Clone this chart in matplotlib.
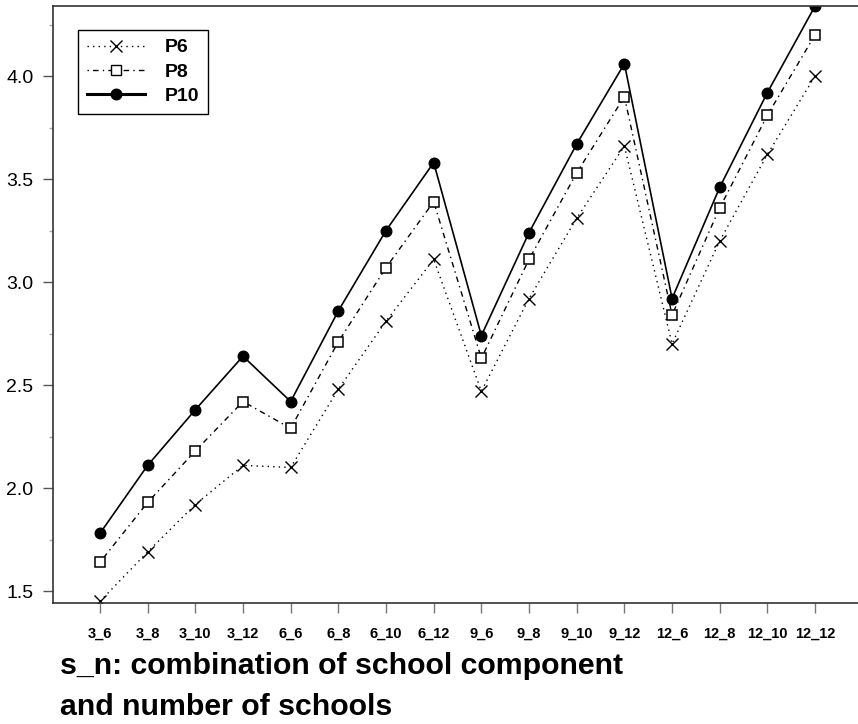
import matplotlib
matplotlib.use('Agg')
import matplotlib.pyplot as plt
from matplotlib.lines import Line2D
import numpy as np

# s_n combinations on the x axis
combos = ['3_6', '3_8', '3_10', '3_12', '6_6', '6_8', '6_10', '6_12',
          '9_6', '9_8', '9_10', '9_12', '12_6', '12_8', '12_10', '12_12']

# values
p6 = [1.45, 1.69, 1.92, 2.11, 2.10, 2.48, 2.81, 3.11,
      2.47, 2.92, 3.31, 3.66, 2.70, 3.20, 3.62, 4.00]
p8 = [1.64, 1.93, 2.18, 2.42, 2.29, 2.71, 3.07, 3.39,
      2.63, 3.11, 3.53, 3.90, 2.84, 3.36, 3.81, 4.20]
p10 = [1.78, 2.11, 2.38, 2.64, 2.42, 2.86, 3.25, 3.58,
       2.74, 3.24, 3.67, 4.06, 2.92, 3.46, 3.92, 4.34]

ytick_vals = [1.5, 2.0, 2.5, 3.0, 3.5, 4.0]
ytick_minor = [1.75, 2.25, 2.75, 3.25, 3.75, 4.25]

plt.rcParams['font.family'] = ['Liberation Sans', 'DejaVu Sans']

W, H = 858, 724
fig = plt.figure(figsize=(W / 100, H / 100), dpi=100)
ax = fig.add_axes([53 / W, (H - 603) / H, (W - 53) / W, (603 - 6) / H])

x = np.arange(1, len(combos) + 1)

ax.plot(x, p6, color='black', lw=1.0, dashes=(1, 3), marker='x',
        markersize=8.5, markeredgewidth=1.0)
ax.plot(x, p8, color='black', lw=1.0, dashes=(1, 3, 4, 3), marker='s',
        markersize=7.2, markerfacecolor='white', markeredgecolor='black',
        markeredgewidth=1.1)
ax.plot(x, p10, color='black', lw=1.2, ls='-', marker='o',
        markersize=7.6, markerfacecolor='black', markeredgecolor='black')

ax.set_xlim(0.015, 16.9)
ax.set_ylim(1.442, 4.34)

ax.set_xticks(x)
ax.set_xticklabels(combos, fontsize=10.5, fontweight='bold')
ax.tick_params(axis='x', length=7.2, width=1.0, color='#777777', pad=10)

ax.set_yticks(ytick_vals)
ax.set_yticklabels(['%.1f' % v for v in ytick_vals], fontsize=14)
ax.set_yticks(ytick_minor, minor=True)
ax.tick_params(axis='y', which='major', length=7.2, width=1.0,
               color='#555555', pad=7)
ax.tick_params(axis='y', which='minor', length=3, width=1.0,
               color='#aaaaaa')

for side in ['left', 'top', 'bottom']:
    ax.spines[side].set_color('#333333')
    ax.spines[side].set_linewidth(1.2)
ax.spines['right'].set_visible(False)

handles = [
    Line2D([], [], color='black', lw=1.0, dashes=(1, 3), marker='x',
           markersize=8.5, markeredgewidth=1.0),
    Line2D([], [], color='black', lw=1.0, dashes=(1, 3, 4, 3), marker='s',
           markersize=7.2, markerfacecolor='white', markeredgecolor='black'),
    Line2D([], [], color='black', lw=2.2, marker='o', markersize=7.6,
           markerfacecolor='black'),
]
leg = ax.legend(handles, ['P6', 'P8', 'P10'], loc='upper left',
                bbox_to_anchor=((78 - 53) / 805, 1 - (30 - 6) / 597),
                borderaxespad=0, fancybox=False, framealpha=1,
                edgecolor='black', handlelength=3.0, handletextpad=1.0,
                labelspacing=0.35, borderpad=0.45,
                prop={'weight': 'bold', 'size': 14})
leg.get_frame().set_linewidth(1.0)

fig.text(60 / W, (H - 674) / H, 's_n: combination of school component',
         fontsize=21.8, fontweight='bold', ha='left', va='baseline')
fig.text(60 / W, (H - 715) / H, 'and number of schools',
         fontsize=21.8, fontweight='bold', ha='left', va='baseline')

fig.savefig('out.png', dpi=100)
